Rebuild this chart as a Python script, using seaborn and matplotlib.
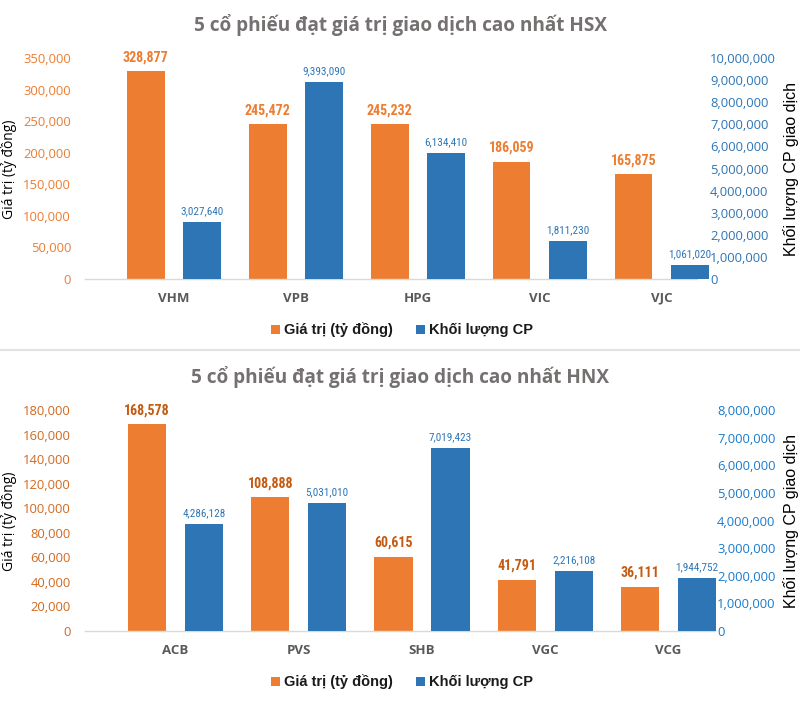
import os
import matplotlib
matplotlib.use("Agg")
import matplotlib.pyplot as plt
import seaborn as sns
import pandas as pd
from matplotlib.patches import Patch
from matplotlib.lines import Line2D
from matplotlib.ticker import FuncFormatter
from matplotlib import font_manager as fm

sns.set_theme(style="white")
plt.rcParams['font.family'] = ['Open Sans', 'DejaVu Sans']

# ---------------- data ----------------
series_names = ["Giá trị (tỷ đồng)", "Khối lượng CP"]

hsx_title = "5 cổ phiếu đạt giá trị giao dịch cao nhất HSX"
hsx_codes = ["VHM", "VPB", "HPG", "VIC", "VJC"]
hsx_value = [328877, 245472, 245232, 186059, 165875]
hsx_volume = [2590000, 8920000, 5710000, 1730000, 630000]          # bar heights as drawn
hsx_value_labels = ["328,877", "245,472", "245,232", "186,059", "165,875"]
hsx_volume_labels = ["3,027,640", "9,393,090", "6,134,410", "1,811,230", "1,061,020"]
hsx_left_ticks = [0, 50000, 100000, 150000, 200000, 250000, 300000, 350000]
hsx_right_ticks = [0, 1000000, 2000000, 3000000, 4000000, 5000000,
                   6000000, 7000000, 8000000, 9000000, 10000000]

hnx_title = "5 cổ phiếu đạt giá trị giao dịch cao nhất HNX"
hnx_codes = ["ACB", "PVS", "SHB", "VGC", "VCG"]
hnx_value = [168578, 108888, 60615, 41791, 36111]
hnx_volume = [3880000, 4630000, 6620000, 2170000, 1930000]          # bar heights as drawn
hnx_value_labels = ["168,578", "108,888", "60,615", "41,791", "36,111"]
hnx_volume_labels = ["4,286,128", "5,031,010", "7,019,423", "2,216,108", "1,944,752"]
hnx_left_ticks = [0, 20000, 40000, 60000, 80000, 100000, 120000, 140000, 160000, 180000]
hnx_right_ticks = [0, 1000000, 2000000, 3000000, 4000000, 5000000,
                   6000000, 7000000, 8000000]

ORANGE = "#ED7D31"
BLUE = "#2E75B6"
palette = {series_names[0]: ORANGE, series_names[1]: BLUE}

W, H = 800, 728
fig = plt.figure(figsize=(W / 100, H / 100), dpi=100)
renderer = fig.canvas.get_renderer()

fmt = FuncFormatter(lambda v, _: f"{v:,.0f}")

# ---- pick a narrow font if one is installed ----
pref = ['liberation sans narrow', 'arial narrow', 'roboto condensed', 'open sans condensed',
        'noto sans condensed', 'dejavu sans condensed']
best = None
best_rank = 99
for f in fm.fontManager.ttflist:
    key = (f.name + ' ' + os.path.basename(f.fname)).lower()
    if 'narrow' in key or 'condensed' in key or 'semicondensed' in key:
        rank = 50
        for i, p in enumerate(pref):
            if p.split()[0] in key:
                rank = i
                break
        if rank < best_rank:
            best_rank = rank
            best = f
if best is not None:
    NARROW = dict(family=[best.name, 'Liberation Sans'], stretch=best.stretch)
else:
    NARROW = dict(family=['Liberation Sans', 'DejaVu Sans'])


def fit_size(sample, target_px, **kw):
    t = fig.text(0, 0, sample, fontsize=10, **kw)
    w = t.get_window_extent(renderer).width
    t.remove()
    return 10 * target_px / w


VAL_SIZE = min(fit_size("328,877", 46, fontweight="bold", **NARROW), 11.5)
VOL_SIZE = min(fit_size("9,393,090", 43, **NARROW), 8.8)


def panel(px_left, px_right, px_top, px_bottom, xlim, title, title_y,
          codes, values, volumes, vlabels, wlabels, lticks, rticks,
          val_color, lab_color, rtick_color, rpad, legend_y, ylabel_y):
    rect = [px_left / W, 1 - px_bottom / H, (px_right - px_left) / W, (px_bottom - px_top) / H]
    ax1 = fig.add_axes(rect)
    ax2 = ax1.twinx()

    d1 = pd.DataFrame({"code": codes, "val": values, "series": series_names[0]})
    d2 = pd.DataFrame({"code": codes, "val": volumes, "series": series_names[1]})
    common = dict(x="code", y="val", hue="series", hue_order=series_names,
                  order=codes, palette=palette, dodge=True, width=0.924,
                  gap=0.33, errorbar=None, legend=False, saturation=1)
    sns.barplot(data=d1, ax=ax1, **common)
    sns.barplot(data=d2, ax=ax2, **common)

    for ax in (ax1, ax2):
        for p in ax.patches:
            p.set_clip_on(False)
            p.set_edgecolor("none")
        for s in ax.spines.values():
            s.set_visible(False)
        ax.set_xlabel("")
        ax.set_ylabel("")
        ax.grid(False)
    ax1.spines["bottom"].set_visible(True)
    ax1.spines["bottom"].set_color("#D9D9D9")
    ax1.spines["bottom"].set_linewidth(1.0)

    ax1.set_ylim(0, lticks[-1])
    ax1.set_yticks(lticks)
    ax2.set_ylim(0, rticks[-1])
    ax2.set_yticks(rticks)
    ax1.set_xlim(*xlim)
    ax1.yaxis.set_major_formatter(fmt)
    ax2.yaxis.set_major_formatter(fmt)
    ax1.tick_params(axis="y", length=0, pad=10, labelsize=9.4, labelcolor=lab_color)
    ax2.tick_params(axis="y", length=0, pad=rpad, labelsize=9.4, labelcolor=rtick_color)
    ax1.tick_params(axis="x", length=0, pad=9, labelsize=9.5, labelcolor="#595959")
    for t in ax1.get_xticklabels():
        t.set_fontweight("bold")

    for p, txt in zip(ax1.patches, vlabels):
        ax1.annotate(txt, (p.get_x() + p.get_width() / 2, p.get_height()),
                     xytext=(0, 5), textcoords="offset points", ha="center", va="bottom",
                     fontsize=VAL_SIZE, fontweight="bold", color=val_color,
                     annotation_clip=False, **NARROW)
    for p, txt in zip(ax2.patches, wlabels):
        ax2.annotate(txt, (p.get_x() + p.get_width() / 2, p.get_height()),
                     xytext=(0, 4), textcoords="offset points", ha="center", va="bottom",
                     fontsize=VOL_SIZE, color=BLUE, annotation_clip=False, **NARROW)

    fig.text(0.5, 1 - title_y / H, title, ha="center", va="center", fontsize=13.7,
             fontweight="bold", color="#757171")
    fig.text(9 / W, 1 - ylabel_y / H, "Giá trị (tỷ đồng)", rotation=90, ha="center",
             va="center", fontsize=10, color="#000000")
    fig.text(791 / W, 1 - ylabel_y / H, "Khối lượng CP giao dịch", rotation=90,
             ha="center", va="center", fontsize=11.5, color="#000000",
             family=['Liberation Sans', 'DejaVu Sans'])

    handles = [Patch(facecolor=ORANGE, edgecolor="none"), Patch(facecolor=BLUE, edgecolor="none")]
    fig.legend(handles, series_names, loc="center", bbox_to_anchor=(402 / W, 1 - legend_y / H),
               ncol=2, frameon=False, handlelength=0.6, handleheight=0.6,
               handletextpad=0.3, columnspacing=1.6,
               prop={"family": ['Liberation Sans', 'DejaVu Sans'], "weight": "bold", "size": 10.5},
               labelcolor="#1a1a1a")


panel(85, 697, 58, 279, (-0.730, 4.290), hsx_title, 25,
      hsx_codes, hsx_value, hsx_volume, hsx_value_labels, hsx_volume_labels,
      hsx_left_ticks, hsx_right_ticks, ORANGE, ORANGE, BLUE, 9.4, 330, 169)

panel(85, 715, 410, 631, (-0.734, 4.377), hnx_title, 377,
      hnx_codes, hnx_value, hnx_volume, hnx_value_labels, hnx_volume_labels,
      hnx_left_ticks, hnx_right_ticks, "#C55A11", "#D2691E", "#1B7BCC", 1.4, 682, 521)

fig.add_artist(Line2D([0, 1], [1 - 350 / H] * 2, color="#E3E3E3", lw=1.5))

fig.savefig("out.png", dpi=100, facecolor="white")
